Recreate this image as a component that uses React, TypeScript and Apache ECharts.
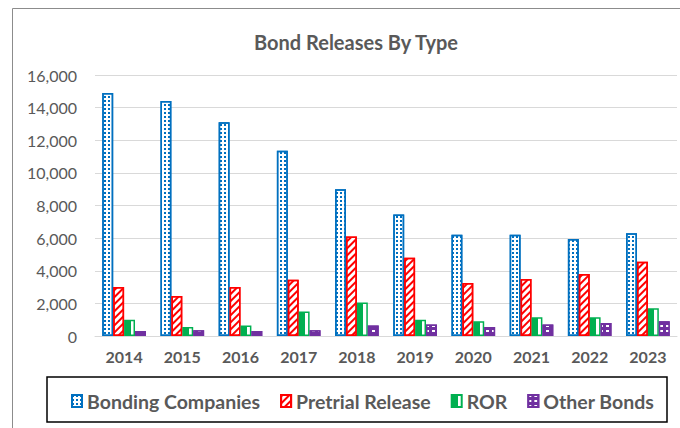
import React, { useEffect, useRef } from "react";
import * as echarts from "echarts";

const years = ["2014", "2015", "2016", "2017", "2018", "2019", "2020", "2021", "2022", "2023"];
const bondingCompanies = [14900, 14400, 13100, 11350, 9000, 7450, 6200, 6200, 5950, 6300];
const pretrialRelease = [3000, 2450, 3000, 3450, 6100, 4800, 3250, 3500, 3800, 4550];
const ror = [1000, 550, 650, 1500, 2050, 1000, 900, 1150, 1150, 1700];
const otherBonds = [300, 350, 300, 350, 650, 700, 550, 700, 800, 900];
const yTicks = { min: 0, max: 16000, interval: 2000 };

const FONT = "Lato, 'Open Sans', sans-serif";
const TXT = "#595959";

export default function App() {
  const ref = useRef<HTMLDivElement>(null);
  useEffect(() => {
    if (!ref.current) return;
    const chart = echarts.init(ref.current, null, { renderer: "svg" });
    const blue = "#0070C0";
    const red = "#FF0000";
    const green = "#00B050";
    const purple = "#7030A0";
    const option: any = {
      animation: false,
      textStyle: { fontFamily: FONT },
      title: {
        text: "Bond Releases By Type",
        left: 351,
        textAlign: "center",
        top: 27,
        textStyle: { fontFamily: FONT, fontSize: 20, fontWeight: "bold", color: TXT },
      },
      grid: { left: 95, right: 3, top: 75, bottom: 92, containLabel: false },
      graphic: [
        {
          type: "rect",
          silent: true,
          z: -10,
          shape: { x: 12.5, y: 8.5, width: 720, height: 460 },
          style: { fill: "none", stroke: "#8C8C8C", lineWidth: 1 },
        },
        {
          type: "rect",
          silent: true,
          z: -10,
          shape: { x: 47, y: 377, width: 620, height: 45 },
          style: { fill: "none", stroke: "#000000", lineWidth: 1.5 },
        },
      ],
      legend: {
        top: 386,
        left: 66,
        icon: "rect",
        itemWidth: 10,
        itemHeight: 12,
        itemGap: 20,
        textStyle: { fontFamily: FONT, fontSize: 19.5, color: TXT, fontWeight: "bold" },
        data: ["Bonding Companies", "Pretrial Release", "ROR", "Other Bonds"],
      },
      xAxis: {
        type: "category",
        data: years,
        axisTick: { show: false },
        axisLine: { lineStyle: { color: "#D9D9D9", width: 1 } },
        axisLabel: { color: TXT, fontFamily: FONT, fontSize: 16, fontWeight: "bold", margin: 12 },
      },
      yAxis: {
        type: "value",
        min: yTicks.min,
        max: yTicks.max,
        interval: yTicks.interval,
        axisLine: { show: false },
        axisTick: { show: false },
        splitLine: { lineStyle: { color: "#D9D9D9", width: 1 } },
        axisLabel: {
          color: TXT,
          fontFamily: FONT,
          fontSize: 16,
          margin: 18,
          formatter: (v: number) => v.toLocaleString("en-US"),
        },
      },
      series: [
        {
          name: "Bonding Companies",
          type: "bar",
          data: bondingCompanies,
          barGap: "0%",
          barCategoryGap: "25%",
          itemStyle: {
            color: "#FFFFFF",
            borderColor: blue,
            borderWidth: 1.5,
            decal: {
              symbol: "rect",
              color: blue,
              symbolSize: 1,
              dashArrayX: [2, 2],
              dashArrayY: [2, 2],
            },
          },
        },
        {
          name: "Pretrial Release",
          type: "bar",
          data: pretrialRelease,
          itemStyle: {
            color: "#FFFFFF",
            borderColor: red,
            borderWidth: 1.5,
            decal: {
              symbol: "rect",
              color: red,
              symbolSize: 1,
              rotation: -Math.PI / 4,
              dashArrayX: [1, 0],
              dashArrayY: [1.5, 3],
            },
          },
        },
        {
          name: "ROR",
          type: "bar",
          data: ror,
          itemStyle: {
            color: {
              type: "linear",
              x: 0,
              y: 0,
              x2: 1,
              y2: 0,
              colorStops: [
                { offset: 0, color: green },
                { offset: 0.62, color: green },
                { offset: 0.62, color: "#FFFFFF" },
                { offset: 1, color: "#FFFFFF" },
              ],
            },
            borderColor: green,
            borderWidth: 1.5,
          },
        },
        {
          name: "Other Bonds",
          type: "bar",
          data: otherBonds,
          itemStyle: {
            color: purple,
            borderColor: purple,
            borderWidth: 1.5,
            decal: {
              symbol: "rect",
              color: "#FFFFFF",
              symbolSize: 1,
              dashArrayX: [3, 3],
              dashArrayY: [1.5, 3],
            },
          },
        },
      ],
    };
    chart.setOption(option);
    return () => chart.dispose();
  }, []);
  return (
    <div
      ref={ref}
      style={{ position: "fixed", left: 0, top: 0, width: 680, height: 428, background: "#FFFFFF" }}
    />
  );
}
